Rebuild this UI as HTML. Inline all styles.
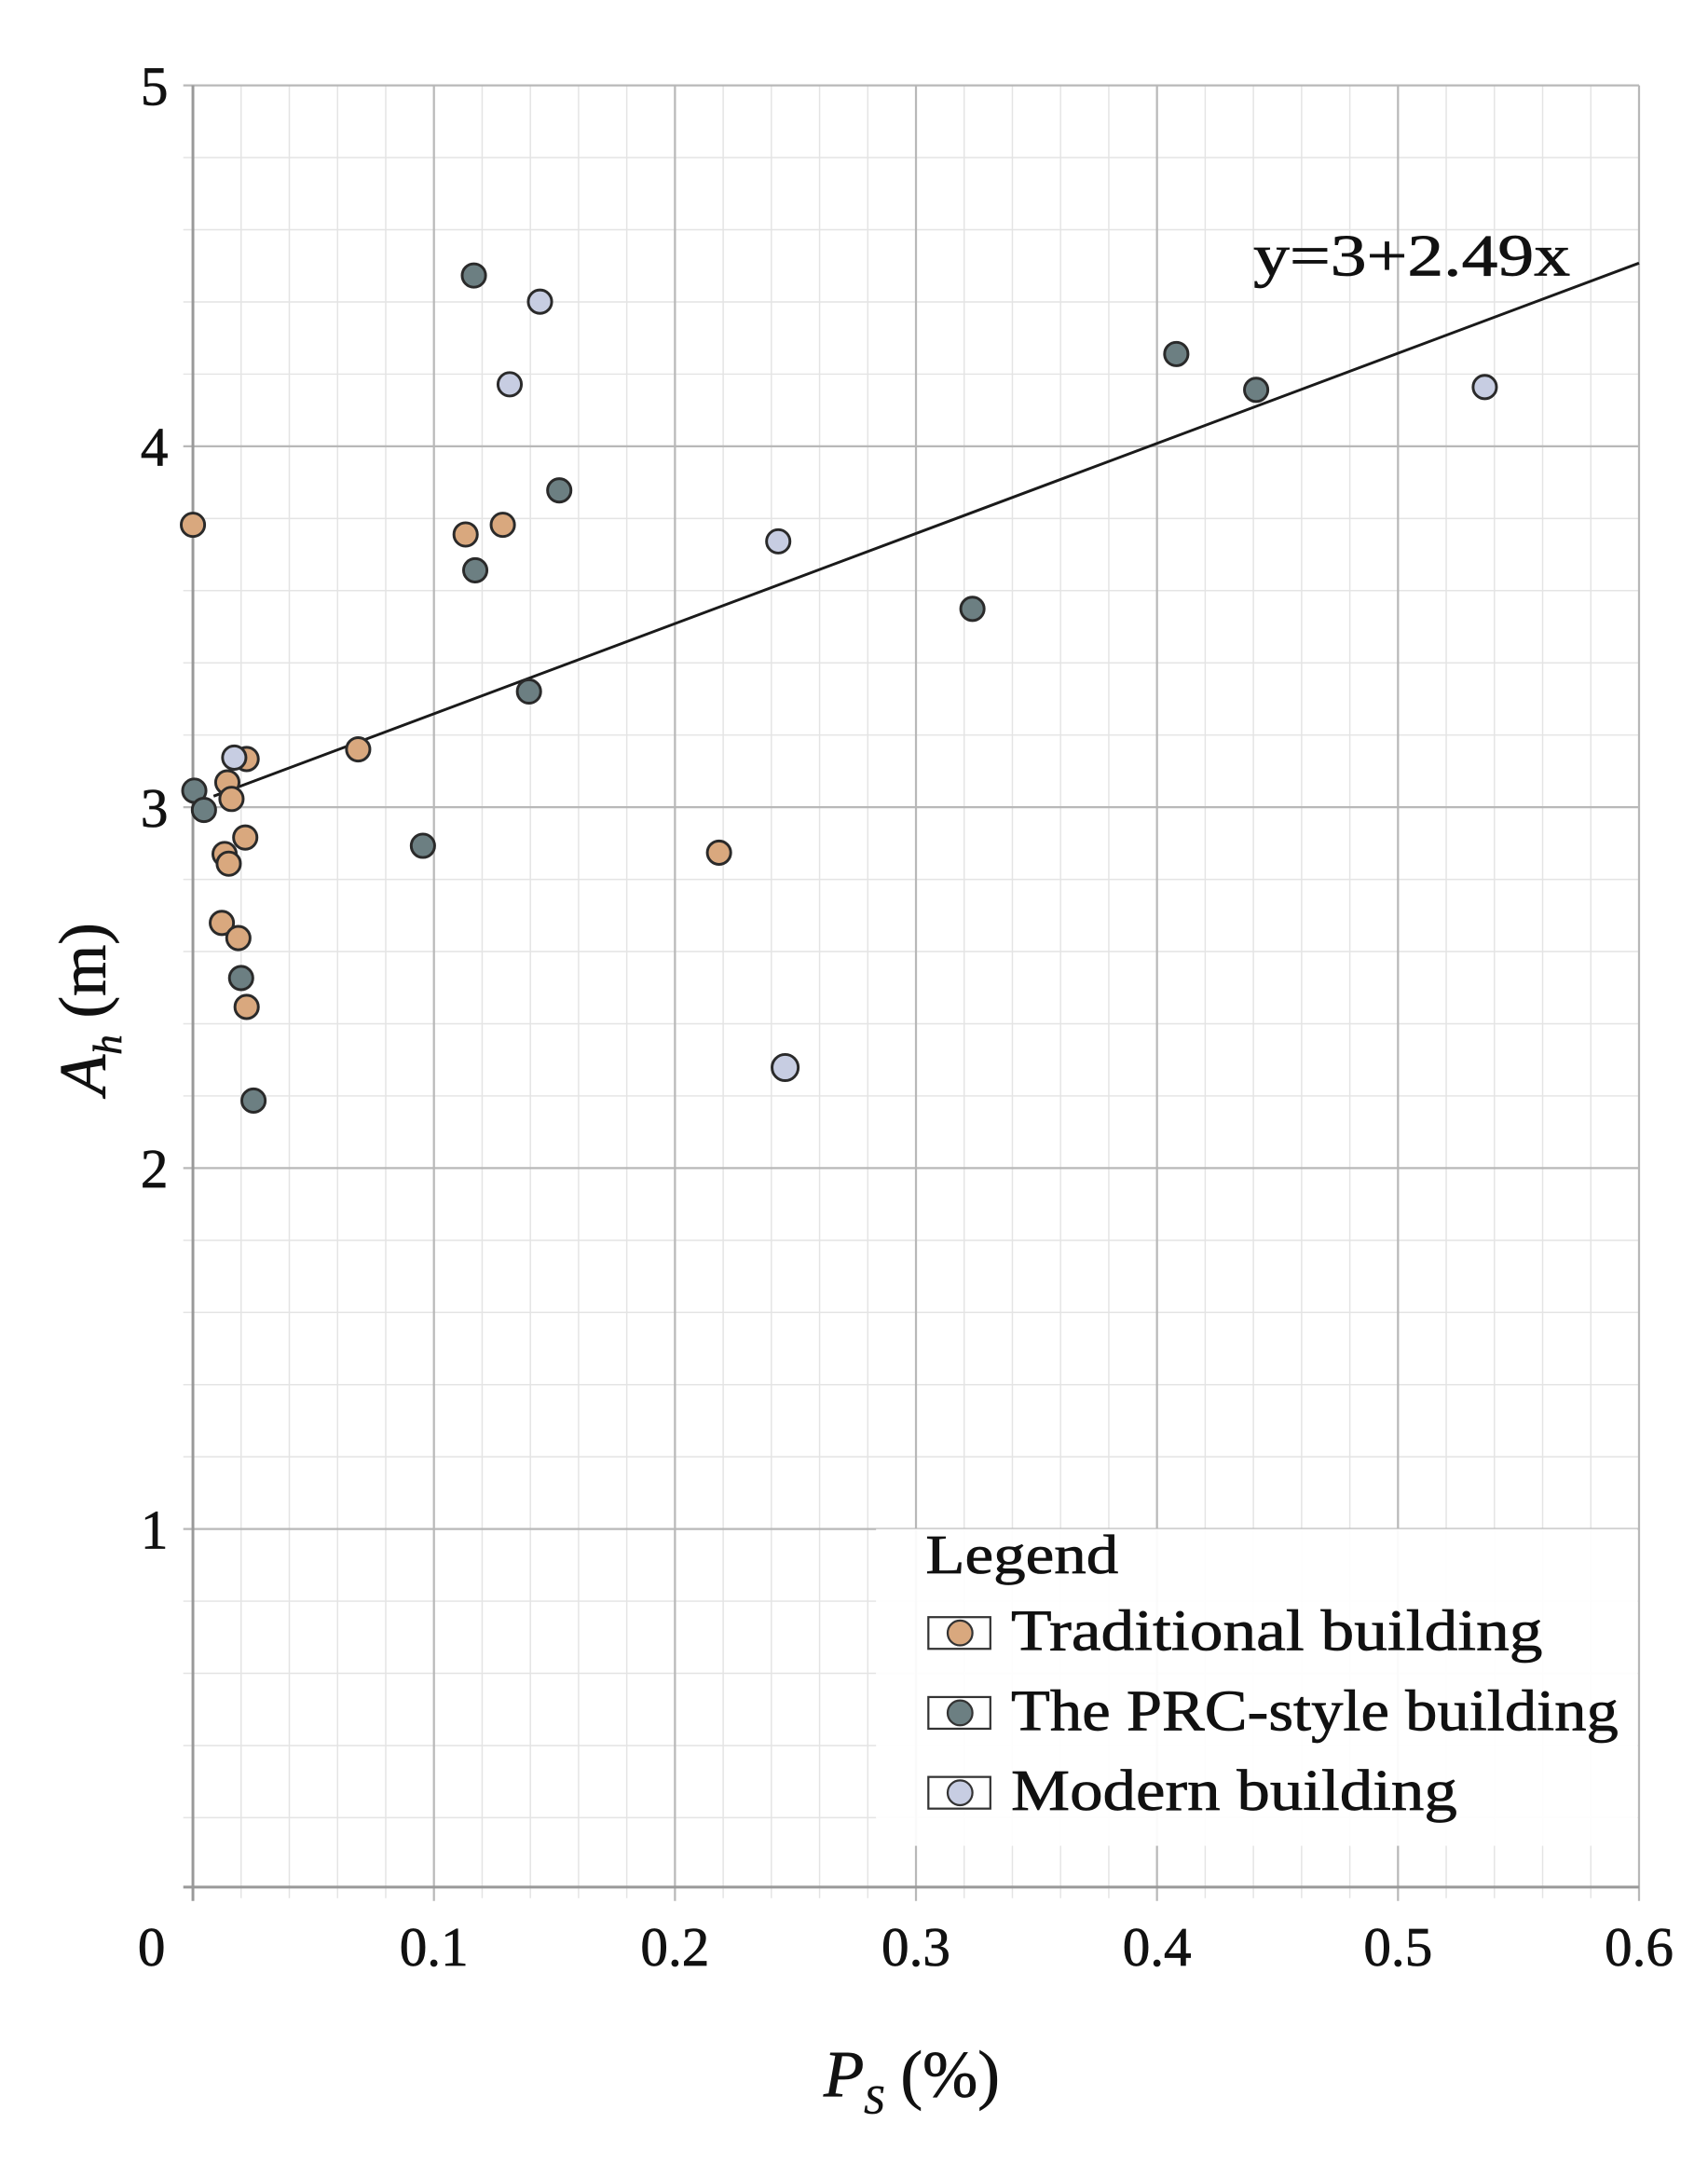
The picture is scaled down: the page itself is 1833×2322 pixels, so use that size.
<!DOCTYPE html>
<html><head><meta charset="utf-8"><style>
html,body{margin:0;padding:0;background:#fff;}
svg{display:block;}
text{font-family:"Liberation Serif",serif;fill:#111;stroke:#111;stroke-width:0.5;}
</style></head><body>
<svg width="1833" height="2322" viewBox="0 0 1240 1571" xmlns="http://www.w3.org/2000/svg">
<rect width="1240" height="1571" fill="#fff"/>
<g stroke="#e4e4e4" stroke-width="1">
<path d="M175 62V1378M210 62V1378M245 62V1378M280 62V1378M350 62V1378M385 62V1378M420 62V1378M455 62V1378M525 62V1378M560 62V1378M595 62V1378M630 62V1378M700 62V1378M735 62V1378M770 62V1378M805 62V1378M875 62V1378M910 62V1378M945 62V1378M980 62V1378M1050 62V1378M1085 62V1378M1120 62V1378M1155 62V1378"/>
<path d="M133 114.4H1190M133 166.8H1190M133 219.2H1190M133 271.6H1190M133 376.4H1190M133 428.8H1190M133 481.2H1190M133 533.6H1190M133 638.4H1190M133 690.8H1190M133 743.2H1190M133 795.6H1190M133 900.4H1190M133 952.8H1190M133 1005.2H1190M133 1057.6H1190M133 1162.4H1190M133 1214.8H1190M133 1267.2H1190M133 1319.6H1190"/>
</g>
<g stroke="#b8b8b8" stroke-width="1.5">
<path d="M315 62V1380M490 62V1380M665 62V1380M840 62V1380M1015 62V1380M1190 62V1380"/>
<path d="M133 62H1190M133 324H1190M133 586H1190M133 848H1190M133 1110H1190"/>
</g>
<g stroke="#999" stroke-width="2"><path d="M140 62V1380M133 1370H1190"/></g>
<rect x="636" y="1110" width="553" height="230" fill="#fff" opacity="0.93"/>
<line x1="155" y1="578" x2="1190" y2="191" stroke="#1a1a1a" stroke-width="2"/>
<text x="910" y="200" font-size="43" textLength="230" lengthAdjust="spacingAndGlyphs">y=3+2.49x</text>
<g stroke="#2a2a2a" stroke-width="2">
<g fill="#d9a87e">
<circle cx="140" cy="381" r="8.5"/><circle cx="338" cy="388" r="8.5"/><circle cx="365" cy="381" r="8.5"/>
<circle cx="179" cy="551" r="8.5"/><circle cx="165" cy="568" r="8.5"/><circle cx="168" cy="580" r="8.5"/>
<circle cx="163" cy="620" r="8.5"/><circle cx="166" cy="627" r="8.5"/><circle cx="178" cy="608" r="8.5"/>
<circle cx="161" cy="670" r="8.5"/><circle cx="173" cy="681" r="8.5"/><circle cx="179" cy="731" r="8.5"/>
<circle cx="260" cy="544" r="8.5"/><circle cx="522" cy="619" r="8.5"/>
</g>
<g fill="#6c7f82">
<circle cx="344" cy="200" r="8.5"/><circle cx="406" cy="356" r="8.5"/><circle cx="345" cy="414" r="8.5"/>
<circle cx="384" cy="502" r="8.5"/><circle cx="307" cy="614" r="8.5"/><circle cx="706" cy="442" r="8.5"/>
<circle cx="854" cy="257" r="8.5"/><circle cx="912" cy="283" r="8.5"/><circle cx="141" cy="574" r="8.5"/>
<circle cx="148" cy="588" r="8.5"/><circle cx="175" cy="710" r="8.5"/><circle cx="184" cy="799" r="8.5"/>
</g>
<g fill="#c7cde2">
<circle cx="392" cy="219" r="8.5"/><circle cx="370" cy="279" r="8.5"/><circle cx="565" cy="393" r="8.5"/>
<circle cx="1078" cy="281" r="8.5"/><circle cx="170" cy="550" r="8.5"/><circle cx="570" cy="775" r="9.5"/>
</g>
</g>
<g font-size="40" text-anchor="end">
<text x="122" y="76">5</text><text x="122" y="338">4</text><text x="122" y="600">3</text>
<text x="122" y="862">2</text><text x="122" y="1124">1</text>
</g>
<g font-size="40" text-anchor="middle">
<text x="110" y="1427">0</text><text x="315" y="1427">0.1</text><text x="490" y="1427">0.2</text>
<text x="665" y="1427">0.3</text><text x="840" y="1427">0.4</text><text x="1015" y="1427">0.5</text><text x="1190" y="1427">0.6</text>
</g>
<text x="598" y="1522" font-size="48"><tspan font-style="italic">P</tspan><tspan font-size="29" font-style="italic" dy="12">S</tspan><tspan dy="-12"> (%)</tspan></text>
<text transform="translate(76,795) rotate(-90)" font-size="48"><tspan font-style="italic">A</tspan><tspan font-size="29" font-style="italic" dy="12">h</tspan><tspan dy="-12"> (m)</tspan></text>
<text x="672" y="1142" font-size="40" textLength="140" lengthAdjust="spacingAndGlyphs">Legend</text>
<g stroke="#333" stroke-width="1.5">
<rect x="674" y="1174" width="45" height="23" fill="#fff"/><circle cx="697" cy="1185.5" r="9" fill="#d9a87e"/>
<rect x="674" y="1232" width="45" height="23" fill="#fff"/><circle cx="697" cy="1243.5" r="9" fill="#6c7f82"/>
<rect x="674" y="1290" width="45" height="23" fill="#fff"/><circle cx="697" cy="1301.5" r="9" fill="#c7cde2"/>
</g>
<g font-size="42">
<text x="734" y="1198" textLength="386" lengthAdjust="spacingAndGlyphs">Traditional building</text>
<text x="734" y="1256" textLength="441" lengthAdjust="spacingAndGlyphs">The PRC-style building</text>
<text x="734" y="1314" textLength="324" lengthAdjust="spacingAndGlyphs">Modern building</text>
</g>
</svg>
</body></html>
